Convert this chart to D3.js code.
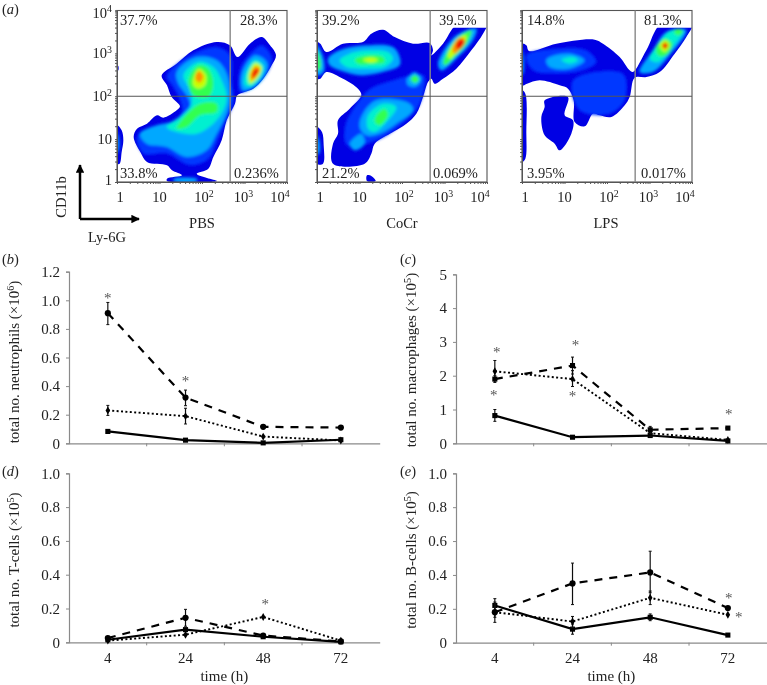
<!DOCTYPE html>
<html><head><meta charset="utf-8">
<script src="https://cdn.jsdelivr.net/npm/d3@7"></script>
<style>
html,body{margin:0;padding:0;background:#fff}
svg{display:block}
text{font-family:"Liberation Serif",serif;fill:#222}
</style></head><body><svg id="c" width="767" height="685"></svg>
<script>
// ---------- line chart data ----------
const categories = ["4","24","48","72"];
const neutroDashed = [.91,.32,.115,.11], neutroDashedLo=[.83,.263,null,null], neutroDashedHi=[.985,.372,null,null];
const neutroDotted = [.23,.19,.047,.02], neutroDottedLo=[.195,.135,null,null], neutroDottedHi=[.265,.245,null,null];
const neutroSolid  = [.083,.022,.003,.025];
const neutroStars  = [["4",1.02,0],["24",.44,0]];
const macroDashed = [1.9,2.3,.4,.45], macroDashedLo=[1.8,2.05,.3,null], macroDashedHi=[2,2.55,.5,null];
const macroDotted = [2.13,1.9,.3,.1], macroDottedLo=[1.85,1.68,.2,null], macroDottedHi=[2.45,2.15,.4,null];
const macroSolid  = [.82,.18,.23,.07], macroSolidLo=[.65,null,null,null], macroSolidHi=[1,null,null,null];
const macroStars  = [["4",2.74,2],["4",1.45,-1],["24",2.95,3],["24",1.44,0],["72",.89,1]];
const tcellDashed = [.025,.145,.04,.005], tcellDashedLo=[null,.095,null,null], tcellDashedHi=[null,.195,null,null];
const tcellDotted = [.01,.045,.15,.01];
const tcellSolid  = [.015,.075,.033,.003];
const tcellStars  = [["48",.23,2]];
const bcellDashed = [.18,.35,.415,.205], bcellDashedLo=[.12,.225,.295,null], bcellDashedHi=[.24,.47,.54,null];
const bcellDotted = [.18,.125,.265,.165], bcellDottedLo=[.15,.09,.225,null], bcellDottedHi=[.21,.155,.305,null];
const bcellSolid  = [.22,.08,.15,.045], bcellSolidLo=[.18,.05,.13,null], bcellSolidHi=[.26,.11,.17,null];
const bcellStars  = [["72",.27,1],["72",.16,11]];
// ---------- flow cytometry density levels (channels, 0-510 = four decades) ----------
const levelColours = ["#0000e4","#0038ff","#00a8ff","#00f0d0","#30ff50","#c8ff00","#ff9000","#f01000"];
const pbsDensity = [
 [0,[[134,320],[179,355],[229,395],[299,420],[339,410],[361,375],[399,415],[434,435],[459,410],[477,380],[464,350],[439,310],[409,280],[361,260],[354,235],[329,185],[314,125],[289,75],[274,40],[239,25],[270,12],[300,3],[150,3],[150,10],[195,20],[165,35],[150,50],[90,60],[70,90],[50,135],[60,160],[90,175],[120,200],[139,193],[179,215],[189,227],[164,255],[150,290]]],
 [0,[[0,170],[14,155],[19,125],[14,90],[8,55],[0,55]]],
 [0,[[0,350],[4,348],[4,335],[0,333]]],
 [1,[[149,317],[219,380],[299,405],[340,380],[345,300],[350,240],[325,180],[300,120],[275,70],[220,50],[150,85],[80,85],[60,135],[100,165],[150,175],[195,210],[185,255],[165,290]]],
 [1,[[370,340],[410,395],[435,410],[465,370],[430,300],[370,270]]],
 [2,[[0,150],[6,130],[6,100],[0,85]]],
 [2,[[170,9],[240,9],[240,2],[170,2]]],
 [2,[[179,330],[239,375],[299,365],[329,325],[339,255],[329,205],[299,145],[269,95],[209,75],[149,105],[89,115],[69,145],[119,170],[179,185],[219,225],[209,260],[184,295]]],
 [2,[[374,325],[414,380],[449,360],[449,330],[414,285],[379,275]]],
 [3,[[199,320],[244,360],[289,345],[314,305],[329,255],[319,215],[289,175],[239,145],[179,150],[149,165],[189,195],[224,235],[219,275]]],
 [3,[[384,320],[414,367],[439,350],[434,320],[404,287],[384,290]]],
 [4,[[214,305],[244,350],[274,340],[289,295],[274,255],[229,260]]],
 [4,[[249,235],[299,235],[299,210],[249,200],[209,165],[179,160],[189,180]]],
 [5,[[229,310],[246,340],[267,320],[264,290],[244,280],[229,290]]],
 [5,[[394,320],[414,357],[434,345],[424,315],[399,295]]],
 [6,[[236,320],[246,333],[259,317],[249,298],[237,305]]],
 [6,[[401,323],[416,347],[429,340],[419,317],[404,305]]],
 [7,[[406,323],[416,340],[425,335],[417,320],[408,313]]]
];
const cocrDensity = [
 [0,[[0,420],[10,415],[28,390],[78,415],[138,420],[163,445],[198,457],[233,435],[288,415],[338,417],[348,395],[343,380],[378,415],[423,475],[510,475],[498,445],[463,395],[418,340],[378,310],[353,295],[343,310],[333,300],[318,255],[298,205],[268,175],[228,150],[173,115],[163,85],[143,55],[48,55],[48,115],[63,145],[63,185],[98,220],[133,260],[123,280],[78,310],[28,330],[10,310],[0,310]]],
 [0,[[0,165],[15,150],[20,110],[18,55],[0,55]]],
 [0,[[150,20],[163,18],[176,3],[150,3]]],
 [1,[[160,280],[210,300],[320,320],[320,270],[300,220],[250,170],[180,125],[90,110],[85,170],[130,250]]],
 [2,[[0,410],[20,370],[20,330],[0,320]]],
 [2,[[0,140],[8,120],[8,90],[0,80]]],
 [2,[[33,370],[68,395],[148,410],[228,405],[248,375],[248,350],[198,330],[128,320],[68,335],[38,350]]],
 [2,[[270,310],[293,330],[313,310],[298,287],[273,290]]],
 [2,[[138,205],[178,245],[278,235],[288,215],[238,175],[188,145],[148,140],[128,165]]],
 [2,[[98,115],[133,145],[143,115],[113,95]]],
 [2,[[363,355],[418,440],[478,460],[468,425],[418,370],[373,335]]],
 [4,[[0,395],[10,370],[10,340],[0,335]]],
 [3,[[68,365],[98,385],[158,395],[213,390],[228,370],[203,345],[138,340],[88,345]]],
 [4,[[281,310],[295,320],[306,307],[293,297]]],
 [3,[[153,200],[198,235],[238,225],[213,185],[173,150],[153,160]]],
 [4,[[178,200],[203,220],[213,200],[188,170],[173,180]]],
 [4,[[378,360],[418,430],[463,455],[453,420],[413,375],[383,350]]],
 [4,[[113,367],[148,380],[198,375],[203,360],[158,353],[123,355]]],
 [5,[[138,367],[163,373],[183,367],[163,359]]],
 [5,[[393,380],[423,430],[448,440],[438,410],[413,385],[398,370]]],
 [6,[[406,400],[428,433],[445,427],[433,405],[413,385]]],
 [7,[[418,415],[430,428],[443,420],[430,400],[420,400]]]
];
const lpsDensity = [
 [0,[[0,415],[13,410],[21,393],[103,415],[218,427],[243,415],[293,375],[323,335],[333,330],[373,395],[418,475],[511,475],[493,435],[458,385],[413,330],[373,315],[338,313],[323,255],[308,230],[268,195],[233,200],[213,205],[188,167],[158,180],[155,245],[138,280],[113,290],[53,305],[15,295],[0,290]]],
 [0,[[68,245],[138,255],[128,200],[153,185],[148,145],[113,95],[98,115],[68,140],[58,195],[68,225]]],
 [0,[[0,275],[10,265],[13,150],[10,70],[0,60]]],
 [1,[[153,305],[303,325],[308,245],[263,205],[173,215]]],
 [1,[[13,380],[103,400],[193,395],[223,360],[183,335],[103,325],[33,335]]],
 [2,[[73,367],[143,385],[188,365],[143,340],[83,345]]],
 [3,[[118,367],[153,375],[168,365],[143,355]]],
 [2,[[0,400],[5,370],[5,330],[0,320]]],
 [2,[[353,330],[393,395],[433,450],[493,455],[443,380],[393,330]]],
 [3,[[383,370],[413,420],[448,455],[483,455],[443,395],[408,360]]],
 [4,[[403,405],[428,430],[451,415],[433,380],[408,380]]],
 [4,[[456,450],[468,460],[483,450],[468,440]]],
 [5,[[413,410],[431,425],[443,410],[428,390]]],
 [7,[[421,410],[430,418],[438,409],[428,400]]]
];
const flowTickValues = [1,10,100,1000,10000];
const flowTickLabels = [["1",""],["10",""],["10","2"],["10","3"],["10","4"]];
const pbsPercent = ["37.7%","28.3%","33.8%","0.236%"];
const cocrPercent = ["39.2%","39.5%","21.2%","0.069%"];
const lpsPercent = ["14.8%","81.3%","3.95%","0.017%"];

const svg = d3.select("#c");
const defs = svg.append("defs");
const blur=(id,s)=>defs.append("filter").attr("id",id).attr("filterUnits","userSpaceOnUse")
  .attr("x",0).attr("y",0).attr("width",767).attr("height",685)
  .append("feGaussianBlur").attr("stdDeviation",s);
blur("soft",0.35); blur("edge",0.6); blur("inner",1.4);
const root = svg.append("g").attr("filter","url(#soft)");
const gray="#8a8a8a";

function lbl(g,x,y,parts,opt={}){
  const size=opt.size||15;
  const t=g.append("text").attr("x",x).attr("y",y).attr("font-size",size)
    .attr("text-anchor",opt.anchor||"start");
  if(opt.rotate) t.attr("transform",`rotate(-90 ${x} ${y})`);
  let carry=0;
  parts.forEach(p=>{
    if(typeof p==="string"){ const s=t.append("tspan").text(p); if(carry) s.attr("dy",carry); carry=0; }
    else if(p.sup){ t.append("tspan").attr("dy",-5.5).attr("font-size",size*0.68).text(p.sup); carry=5.5; }
    else if(p.i) t.append("tspan").attr("font-style","italic").text(p.i);
  });
  return t;
}

// ---------- flow plots ----------
function flow(id,x0,density,percent,name,nameX,pctX,showY){
  const W=170,top=10.5,bot=182;
  const cx=d3.scaleLinear().domain([0,510]).range([x0,x0+W]);
  const cy=d3.scaleLinear().domain([0,514]).range([bot,bot-171.3]);
  const lx=d3.scaleLog().domain([1,1e4]).range([x0,x0+W]);
  const ly=d3.scaleLog().domain([1,1e4]).range([bot,top]);
  defs.append("clipPath").attr("id","clip"+id).append("rect").attr("x",x0).attr("y",cy(463)-(id==="pbs"?60:0)).attr("width",W).attr("height",bot-cy(463)+(id==="pbs"?60:0));
  const g=root.append("g");
  const path=d3.line().x(d=>cx(d[0])).y(d=>cy(d[1])).curve(d3.curveCatmullRomClosed.alpha(0.5));
  const clip=g.append("g").attr("clip-path",`url(#clip${id})`);
  clip.append("g").attr("filter","url(#edge)").selectAll("path").data(density.filter(d=>d[0]===0)).join("path")
    .attr("d",d=>path(d[1])).attr("fill",levelColours[0]);
  clip.append("g").attr("filter","url(#inner)").selectAll("path").data(density.filter(d=>d[0]>0)).join("path")
    .attr("d",d=>path(d[1])).attr("fill",d=>levelColours[d[0]]);
  // box
  g.append("rect").attr("x",x0).attr("y",top).attr("width",W).attr("height",bot-top)
    .attr("fill","none").attr("stroke","#555").attr("stroke-width",1.1);
  const minor=lx.ticks();
  const ax=g.append("g").attr("transform",`translate(0,${bot})`)
    .call(d3.axisBottom(lx).tickValues(minor).tickSize(2).tickFormat(""));
  const ay=g.append("g").attr("transform",`translate(${x0},0)`)
    .call(d3.axisLeft(ly).tickValues(minor).tickSize(2).tickFormat(""));
  [ax,ay].forEach(a=>{a.selectAll("line").attr("stroke","#555");a.select(".domain").attr("stroke","#555");
    a.selectAll("text").remove();});
  // quadrant lines
  g.append("line").attr("x1",lx(460)).attr("x2",lx(460)).attr("y1",top).attr("y2",bot).attr("stroke","#888").attr("stroke-width",1.4);
  g.append("line").attr("x1",x0).attr("x2",x0+W).attr("y1",ly(100)).attr("y2",ly(100)).attr("stroke","#555").attr("stroke-width",1);
  // tick labels
  const xoff=[3,0,2,-1,-7];
  flowTickValues.forEach((v,i)=>{
    const [a,s]=flowTickLabels[i];
    lbl(g,lx(v)+xoff[i],202,s?[a,{sup:s}]:[a],{anchor:"middle",size:14.5});
    if(showY){
      const yoff=[-2,0,0,0,2];
      lbl(g,x0-5,ly(v)+yoff[i]+5,s?[a,{sup:s}]:[a],{anchor:"end",size:14.5});
    }
  });
  // percentages
  const ys=[25,25,178,178];
  percent.forEach((p,i)=>lbl(g,pctX[i],ys[i],[p],{size:14.5}));
  lbl(g,nameX,228,[name],{anchor:"middle",size:14.5});
}
flow("pbs",117,pbsDensity,pbsPercent,"PBS",202,[120,240,120,234],true);
flow("cocr",317,cocrDensity,cocrPercent,"CoCr",402,[322,439,322,433],false);
flow("lps",522,lpsDensity,lpsPercent,"LPS",606,[527,644,527,641],false);

// CD11b / Ly-6G arrows
defs.append("marker").attr("id","arr").attr("viewBox","0 0 10 10").attr("refX",9).attr("refY",5)
  .attr("markerWidth",3.4).attr("markerHeight",3.4).attr("orient","auto")
  .append("path").attr("d","M0,0L10,5L0,10z").attr("fill","#000");
root.append("path").attr("d","M80,219V165").attr("stroke","#000").attr("stroke-width",2.5).attr("fill","none").attr("marker-end","url(#arr)");
root.append("path").attr("d","M80,219H139").attr("stroke","#000").attr("stroke-width",2.5).attr("fill","none").attr("marker-end","url(#arr)");
lbl(root,66,197,["CD11b"],{anchor:"middle",rotate:true,size:14.5});
lbl(root,107,242,["Ly-6G"],{anchor:"middle",size:14.5});

// panel letters
[["a",2,14],["b",2,264],["c",400,264],["d",2,476],["e",400,476]].forEach(([l,x,y])=>
  lbl(root,x,y,["(",{i:l},")"],{size:14.5}));

// ---------- line panels ----------
function panel(c){
  const x=d3.scaleBand().domain(categories).range([c.x0,c.x0+310.7]);
  const y=d3.scaleLinear().domain([0,c.max]).range([c.y0,c.yTop]);
  const g=root.append("g");
  const cxp=k=>x(k)+x.bandwidth()/2;
  // axes
  const ay=g.append("g").attr("transform",`translate(${c.x0},0)`)
    .call(d3.axisLeft(y).tickValues(c.ticks).tickSize(3).tickPadding(6)
      .tickFormat(d=>d===0?"0":c.fmt(d)));
  const ax=g.append("g").attr("transform",`translate(0,${c.y0})`)
    .call(d3.axisBottom(x).tickSize(0).tickPadding(10).tickFormat(d=>c.xlabels?d:""));
  if(!c.xlabels) ax.selectAll("text").remove();
  [ax,ay].forEach(a=>{a.select(".domain").attr("stroke",gray).attr("stroke-width",1.2);
    a.selectAll("line").attr("stroke",gray);
    a.selectAll("text").attr("font-size",15).attr("font-family","Liberation Serif").attr("fill","#222");});
  g.append("g").selectAll("line").data(categories.slice(1)).join("line")
    .attr("x1",d=>x(d)).attr("x2",d=>x(d)).attr("y1",c.y0).attr("y2",c.y0+3).attr("stroke",gray);
  const line=d3.line().x((d,i)=>cxp(categories[i])).y(d=>y(d));
  c.series.forEach(s=>{
    g.append("path").attr("d",line(s.v)).attr("fill","none").attr("stroke","#000")
      .attr("stroke-width",s.sw).attr("stroke-dasharray",s.dash);
    if(s.lo) categories.forEach((k,i)=>{ if(s.lo[i]==null) return;
      const X=cxp(k);
      g.append("line").attr("x1",X).attr("x2",X).attr("y1",y(s.lo[i])).attr("y2",y(s.hi[i])).attr("stroke","#111").attr("stroke-width",1.2);
      [s.lo[i],s.hi[i]].forEach(e=>g.append("line").attr("x1",X-1.5).attr("x2",X+1.5).attr("y1",y(e)).attr("y2",y(e)).attr("stroke","#111").attr("stroke-width",1));
    });
    const sym=d3.symbol().type(s.sym).size(s.size);
    g.append("g").selectAll("path").data(s.v).join("path").attr("d",sym)
      .attr("transform",(d,i)=>`translate(${cxp(categories[i])},${y(d)})`).attr("fill","#000");
  });
  c.stars.forEach(([k,v,dx])=>g.append("text").attr("x",cxp(k)+dx).attr("y",y(v)+6)
    .attr("text-anchor","middle").attr("font-size",15).attr("fill","#555").style("fill","#555").text("*"));
  lbl(g,c.tx,c.ty,c.title,{anchor:"middle",rotate:true,size:15});
  if(c.xlabels) lbl(g,c.x0+x.bandwidth()*2,681,["time (h)"],{anchor:"middle",size:15});
}
const DASH={sw:2.2,dash:"8 7"},DOT={sw:1.9,dash:"2 2.4"},SOL={sw:2.2,dash:null};
const C=d3.symbolCircle,S=d3.symbolSquare,D=d3.symbolDiamond;
const f1=d3.format(".1f"),f0=d3.format("d");
panel({x0:69,y0:443.3,yTop:271.7,max:1.2,ticks:[0,.2,.4,.6,.8,1,1.2],fmt:f1,tx:19,ty:362,
  title:["total no. neutrophils (×10",{sup:"6"},")"],stars:neutroStars,
  series:[
   {...SOL,v:neutroSolid,sym:S,size:26},
   {...DOT,v:neutroDotted,lo:neutroDottedLo,hi:neutroDottedHi,sym:D,size:18},
   {...DASH,v:neutroDashed,lo:neutroDashedLo,hi:neutroDashedHi,sym:C,size:30}]});
panel({x0:456,y0:443.3,yTop:274.3,max:5,ticks:[0,1,2,3,4,5],fmt:f0,tx:416,ty:360,
  title:["total no. macrophages (×10",{sup:"5"},")"],stars:macroStars,
  series:[
   {...SOL,v:macroSolid,lo:macroSolidLo,hi:macroSolidHi,sym:S,size:26},
   {...DOT,v:macroDotted,lo:macroDottedLo,hi:macroDottedHi,sym:D,size:18},
   {...DASH,v:macroDashed,lo:macroDashedLo,hi:macroDashedHi,sym:S,size:26}]});
panel({x0:69,y0:642.3,yTop:473.3,max:1,ticks:[0,.2,.4,.6,.8,1],fmt:f1,tx:19,ty:560,xlabels:true,
  title:["total no. T-cells (×10",{sup:"5"},")"],stars:tcellStars,
  series:[
   {...SOL,v:tcellSolid,sym:S,size:26},
   {...DOT,v:tcellDotted,sym:D,size:18},
   {...DASH,v:tcellDashed,lo:tcellDashedLo,hi:tcellDashedHi,sym:C,size:30}]});
panel({x0:456,y0:642.7,yTop:473.3,max:1,ticks:[0,.2,.4,.6,.8,1],fmt:f1,tx:416,ty:560,xlabels:true,
  title:["total no. B-cells (×10",{sup:"5"},")"],stars:bcellStars,
  series:[
   {...SOL,v:bcellSolid,lo:bcellSolidLo,hi:bcellSolidHi,sym:S,size:26},
   {...DOT,v:bcellDotted,lo:bcellDottedLo,hi:bcellDottedHi,sym:D,size:18},
   {...DASH,v:bcellDashed,lo:bcellDashedLo,hi:bcellDashedHi,sym:C,size:30}]});
</script></body></html>
